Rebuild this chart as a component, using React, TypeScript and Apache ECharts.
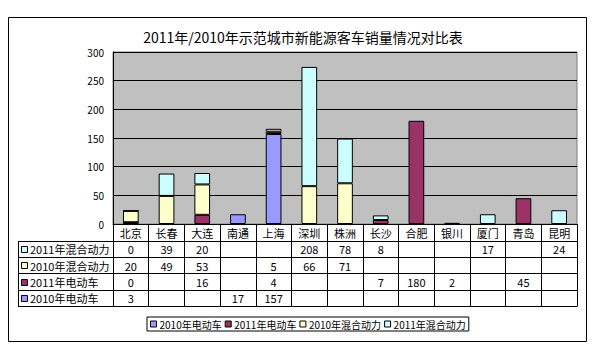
import React, { useEffect, useRef } from 'react';
import * as echarts from 'echarts';

const categories = ['北京', '长春', '大连', '南通', '上海', '深圳', '株洲', '长沙', '合肥', '银川', '厦门', '青岛', '昆明'];
const ev2010 = [3, null, null, 17, 157, null, null, null, null, null, null, null, null];
const ev2011 = [0, null, 16, null, 4, null, null, 7, 180, 2, null, 45, null];
const hybrid2010 = [20, 49, 53, null, 5, 66, 71, null, null, null, null, null, null];
const hybrid2011 = [0, 39, 20, null, null, 208, 78, 8, null, null, 17, null, 24];
const seriesNames = ['2010年电动车', '2011年电动车', '2010年混合动力', '2011年混合动力'];
const seriesColors = ['#9999FF', '#993366', '#FFFFCC', '#CCFFFF'];
const titleText = '2011年/2010年示范城市新能源客车销量情况对比表';
const yMin = 0;
const yMax = 300;
const yInterval = 50;

const FONT = "'Noto Sans CJK SC', 'DejaVu Sans', sans-serif";

export default function App() {
  const ref = useRef<HTMLDivElement>(null);
  useEffect(() => {
    if (!ref.current) return;
    const chart = echarts.init(ref.current, null, { renderer: 'svg' });
    const seriesData = [ev2010, ev2011, hybrid2010, hybrid2011];
    const gridLeft = 113, gridRight = 577, gridTop = 52, gridBottom = 224;
    chart.setOption({
      animation: false,
      backgroundColor: '#fff',
      textStyle: { fontFamily: FONT },
      title: {
        text: titleText,
        left: 298,
        textAlign: 'center',
        top: 25,
        textStyle: { fontSize: 14, fontWeight: 'normal', color: '#000', fontFamily: FONT },
      },
      legend: {
        data: seriesNames,
        left: 147,
        top: 317,
        width: 330,
        borderColor: '#000',
        borderWidth: 1,
        padding: [2, 3, 2, 3],
        itemWidth: 6,
        itemHeight: 6,
        itemGap: 3,
        icon: 'rect',
        itemStyle: { borderColor: '#000', borderWidth: 1 },
        textStyle: { fontSize: 10, color: '#000', fontFamily: FONT, padding: [0, 0, 0, -2] },
      },
      grid: {
        left: gridLeft,
        right: 600 - gridRight,
        top: gridTop,
        bottom: 347 - gridBottom,
        show: true,
        backgroundColor: '#C0C0C0',
        borderColor: '#808080',
        borderWidth: 1,
      },
      xAxis: {
        type: 'category',
        data: categories,
        axisLine: { show: true, lineStyle: { color: '#000', width: 1 } },
        axisTick: { show: true, length: 82, interval: 0, lineStyle: { color: '#000', width: 1 } },
        axisLabel: { interval: 0, margin: 3, fontSize: 11, color: '#000', fontFamily: FONT },
      },
      yAxis: {
        type: 'value',
        min: yMin,
        max: yMax,
        interval: yInterval,
        axisLine: { show: true, lineStyle: { color: '#000', width: 1 } },
        axisTick: { show: false },
        axisLabel: { margin: 9, fontSize: 10, color: '#000', fontFamily: FONT },
        splitLine: { show: true, lineStyle: { color: '#000', width: 1 } },
      },
      series: seriesNames.map((name, i) => ({
        name,
        type: 'bar',
        stack: 'total',
        data: seriesData[i],
        barWidth: '44%',
        itemStyle: { color: seriesColors[i], borderColor: '#000', borderWidth: 1 },
      })),
    });

    // Data table drawn below the axis
    const rowTop = 240.5;
    const rowH = 16.4;
    const tableLeft = 18;
    const tableRight = gridRight;
    const tableBottom = rowTop + rowH * 4;
    const graphics: any[] = [];
    graphics.push({
      type: 'rect',
      shape: { x: 8.5, y: 17.5, width: 578, height: 324 },
      style: { fill: 'none', stroke: '#000', lineWidth: 1 },
      silent: true,
      z: -1,
    });
    for (let r = 0; r <= 4; r++) {
      const y = Math.round(rowTop + r * rowH) + 0.5;
      graphics.push({
        type: 'line',
        shape: { x1: tableLeft, y1: y, x2: tableRight + 0.5, y2: y },
        style: { stroke: '#000', lineWidth: 1 },
        silent: true,
      });
    }
    graphics.push({
      type: 'line',
      shape: { x1: tableLeft + 0.5, y1: Math.round(rowTop) + 0.5, x2: tableLeft + 0.5, y2: Math.round(tableBottom) + 0.5 },
      style: { stroke: '#000', lineWidth: 1 },
      silent: true,
    });
    const rowOrder = [3, 2, 1, 0];
    rowOrder.forEach((si, r) => {
      const yc = rowTop + r * rowH + rowH / 2;
      graphics.push({
        type: 'rect',
        shape: { x: 21.5, y: Math.round(yc - 3) + 0.5, width: 6, height: 6 },
        style: { fill: seriesColors[si], stroke: '#000', lineWidth: 1 },
        silent: true,
      });
      graphics.push({
        type: 'text',
        x: 30,
        y: yc + 0.5,
        style: { text: seriesNames[si], fontSize: 11, fill: '#000', fontFamily: FONT, verticalAlign: 'middle', align: 'left' },
        silent: true,
      });
      seriesData[si].forEach((v, ci) => {
        if (v === null || v === undefined) return;
        const xc = chart.convertToPixel({ xAxisIndex: 0 }, ci) as number;
        graphics.push({
          type: 'text',
          x: xc,
          y: yc + 0.5,
          style: { text: String(v), fontSize: 11, fill: '#000', fontFamily: FONT, verticalAlign: 'middle', align: 'center' },
          silent: true,
        });
      });
    });
    chart.setOption({ graphic: graphics });
    return () => chart.dispose();
  }, []);
  return (
    <div
      ref={ref}
      style={{ position: 'fixed', left: 0, top: 0, width: 600, height: 347, background: '#fff' }}
    />
  );
}
